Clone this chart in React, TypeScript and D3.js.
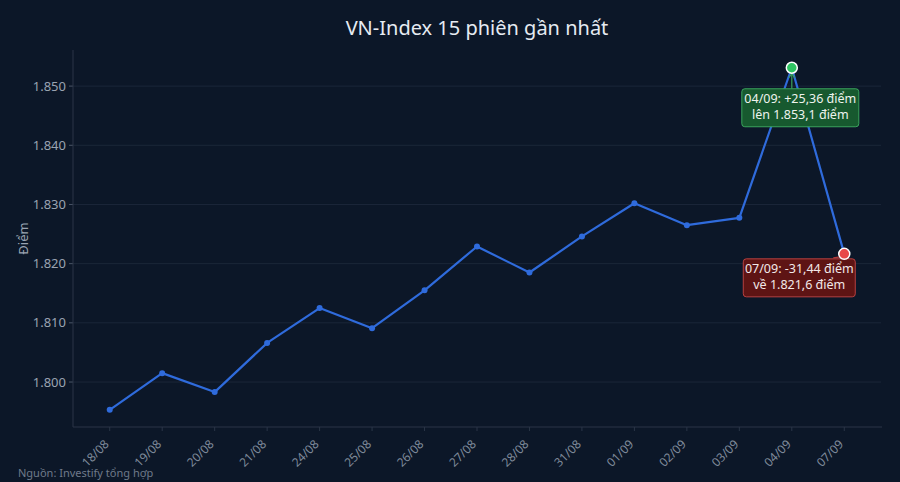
import React from 'react';
import * as d3 from 'd3';

const dates = ['18/08', '19/08', '20/08', '21/08', '24/08', '25/08', '26/08', '27/08', '28/08', '31/08', '01/09', '02/09', '03/09', '04/09', '07/09'];
const closes = [1795.3, 1801.5, 1798.3, 1806.6, 1812.5, 1809.1, 1815.5, 1822.9, 1818.5, 1824.6, 1830.2, 1826.5, 1827.74, 1853.1, 1821.66];
const yTicks = [1800, 1810, 1820, 1830, 1840, 1850];
const highNote = ['04/09: +25,36 điểm', 'lên 1.853,1 điểm'];
const lowNote = ['07/09: -31,44 điểm', 'về 1.821,6 điểm'];

const W = 900;
const H = 482;
const margin = { top: 50, right: 19, bottom: 55, left: 73 };
const font = '"Noto Sans", "Open Sans", sans-serif';

const fmtTick = (v: number) => d3.format(',')(v).replace(',', '.');

export default function App() {
  const x = d3
    .scalePoint<string>()
    .domain(dates)
    .range([margin.left, W - margin.right])
    .padding(0.7);
  const y = d3
    .scaleLinear()
    .domain([1792.4, 1856.1])
    .range([H - margin.bottom, margin.top]);

  const line = d3
    .line<number>()
    .x((_, i) => x(dates[i]) as number)
    .y(d => y(d));

  const hiIdx = closes.indexOf(d3.max(closes) as number);
  const loIdx = closes.length - 1;
  const hx = x(dates[hiIdx]) as number;
  const hy = y(closes[hiIdx]);
  const lx = x(dates[loIdx]) as number;
  const ly = y(closes[loIdx]);

  return (
    <div style={{ position: 'fixed', left: 0, top: 0, width: W, height: H, background: '#0c1728' }}>
      <svg width={W} height={H} style={{ display: 'block' }} fontFamily={font}>
        <rect width={W} height={H} fill="#0c1728" />
        <text x={(margin.left + W - margin.right) / 2} y={35} textAnchor="middle" fill="#e6ebf2" fontSize={20}>
          VN-Index 15 phiên gần nhất
        </text>

        {/* grid + y axis */}
        {yTicks.map(t => (
          <g key={t}>
            <line x1={margin.left} x2={W - margin.right} y1={y(t)} y2={y(t)} stroke="#1b2739" strokeWidth={1} />
            <line x1={margin.left - 4} x2={margin.left} y1={y(t)} y2={y(t)} stroke="#4a5567" />
            <text x={margin.left - 7} y={y(t)} dy="0.35em" textAnchor="end" fill="#9aa3b1" fontSize={13}>
              {fmtTick(t)}
            </text>
          </g>
        ))}
        <line x1={margin.left} x2={margin.left} y1={margin.top} y2={H - margin.bottom} stroke="#2a3547" />
        <line x1={margin.left} x2={W - margin.right + 1} y1={H - margin.bottom} y2={H - margin.bottom} stroke="#2a3547" />
        <text transform={`translate(28,${(margin.top + H - margin.bottom) / 2}) rotate(-90)`} textAnchor="middle" fill="#9aa3b1" fontSize={13}>
          Điểm
        </text>

        {/* x axis */}
        {dates.map(d => {
          const px = x(d) as number;
          const py = H - margin.bottom;
          return (
            <g key={d}>
              <line x1={px} x2={px} y1={py} y2={py + 4} stroke="#2a3547" />
              <text transform={`translate(${px - 6},${py + 12}) rotate(-45)`} textAnchor="end" dy="0.7em" fill="#7f8a9a" fontSize={12}>
                {d}
              </text>
            </g>
          );
        })}

        {/* series */}
        <path d={line(closes) as string} fill="none" stroke="#2f6bdc" strokeWidth={2.2} strokeLinejoin="round" />
        {closes.map((c, i) =>
          i === hiIdx || i === loIdx ? null : (
            <circle key={i} cx={x(dates[i]) as number} cy={y(c)} r={3} fill="#2f6bdc" />
          )
        )}

        {/* high annotation */}
        <line x1={hx} x2={hx} y1={hy + 6} y2={hy + 21} stroke="#3aa35c" strokeWidth={1.2} />
        <path d={`M${hx - 3},${hy + 10} L${hx},${hy + 6} L${hx + 3},${hy + 10}`} fill="none" stroke="#3aa35c" strokeWidth={1.2} />
        <rect x={hx - 50} y={hy + 21} width={117} height={38} rx={3} fill="#17592f" stroke="#3aa35c" strokeWidth={1} />
        {highNote.map((t, i) => (
          <text key={t} x={hx + 8.5} y={hy + 35 + i * 16} textAnchor="middle" fill="#eef3ee" fontSize={12.5}>
            {t}
          </text>
        ))}
        <circle cx={hx} cy={hy} r={5.5} fill="#2ec462" stroke="#ffffff" strokeWidth={1.5} />

        {/* low annotation */}
        <line x1={lx - 11} x2={lx - 4} y1={ly + 4} y2={ly + 3} stroke="#b33a3a" strokeWidth={1.2} />
        <rect x={lx - 101} y={ly + 5} width={112} height={38} rx={3} fill="#5e1414" stroke="#b84040" strokeWidth={1} />
        {lowNote.map((t, i) => (
          <text key={t} x={lx - 45} y={ly + 19 + i * 16} textAnchor="middle" fill="#f2e8e8" fontSize={12.5}>
            {t}
          </text>
        ))}
        <circle cx={lx} cy={ly} r={5.5} fill="#e84848" stroke="#ffffff" strokeWidth={1.5} />

        <text x={18} y={477} fill="#6f7a8a" fontSize={11}>
          Nguồn: Investify tổng hợp
        </text>
      </svg>
    </div>
  );
}
